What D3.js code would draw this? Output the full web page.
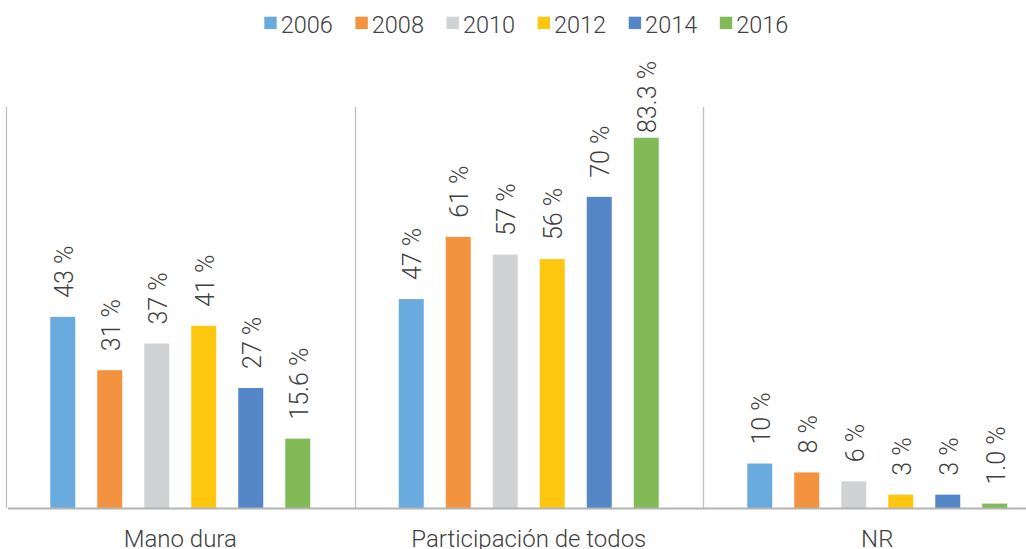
<!DOCTYPE html>
<html>
<head>
<meta charset="utf-8">
<script src="https://cdn.jsdelivr.net/npm/d3@7"></script>
<style>
  body { margin: 0; background: #fff; }
  svg text { font-family: Roboto, "Liberation Sans", Arial, sans-serif; font-weight: 300; fill: #404040; }
</style>
</head>
<body>
<div id="chart"></div>
<script>
// chart data
var groups = ['Mano dura', 'Participación de todos', 'NR'];
var years = ['2006', '2008', '2010', '2012', '2014', '2016'];
var manoDura = [43, 31, 37, 41, 27, 15.6];
var participacion = [47, 61, 57, 56, 70, 83.3];
var noResponde = [10, 8, 6, 3, 3, 1.0];
var manoDuraLabels = ['43 %', '31 %', '37 %', '41 %', '27 %', '15.6 %'];
var participacionLabels = ['47 %', '61 %', '57 %', '56 %', '70 %', '83.3 %'];
var noRespondeLabels = ['10 %', '8 %', '6 %', '3 %', '3 %', '1.0 %'];

var colors = ['#6aabdf', '#f39340', '#d1d2d4', '#fec70f', '#5586c7', '#82ba58'];

var cfg = {
  width: 1026,
  height: 549,
  baseline: 508,
  gridTop: 107,
  left: 6,
  groupStep: 348.5
};

(function(data) {
  var series = [manoDura, participacion, noResponde];
  var labels = [manoDuraLabels, participacionLabels, noRespondeLabels];

  var svg = d3
    .select('#chart')
    .append('svg')
    .attr('width', data.width)
    .attr('height', data.height);

  var x0 = d3
    .scaleBand()
    .domain(groups)
    .range([data.left, data.left + groups.length * data.groupStep]);

  var bw = x0.bandwidth();
  var span = 282; // 6 bars * 47px step
  var x1 = d3
    .scaleBand()
    .domain(years)
    .range([(bw - span) / 2, (bw + span) / 2])
    .paddingInner(22 / 47)
    .paddingOuter(11 / 47);

  var y = d3
    .scaleLinear()
    .domain([0, 100])
    .range([data.baseline, data.baseline - 444.5]);

  var color = d3.scaleOrdinal().domain(years).range(colors);

  // separators
  svg
    .append('g')
    .selectAll('line')
    .data(groups)
    .enter()
    .append('line')
    .attr('x1', d => Math.round(x0(d)) + 0.5)
    .attr('x2', d => Math.round(x0(d)) + 0.5)
    .attr('y1', data.gridTop)
    .attr('y2', data.baseline)
    .style('stroke', '#bfbfbf')
    .style('stroke-width', 1.3);

  var rows = [];
  groups.forEach((g, gi) => {
    years.forEach((yr, yi) => {
      rows.push({ group: g, year: yr, value: series[gi][yi], label: labels[gi][yi] });
    });
  });

  var bars = svg.append('g');
  bars
    .selectAll('rect')
    .data(rows)
    .enter()
    .append('rect')
    .attr('x', d => x0(d.group) + x1(d.year))
    .attr('width', x1.bandwidth())
    .attr('y', d => y(d.value))
    .attr('height', d => y(0) - y(d.value))
    .attr('fill', d => color(d.year));

  // value labels, rotated; kept inside the chart top like excel does
  bars
    .selectAll('text')
    .data(rows)
    .enter()
    .append('text')
    .attr('transform', d => {
      var cx = x0(d.group) + x1(d.year) + x1.bandwidth() / 2 + 1;
      var cy = Math.max(y(d.value) - 19, 133);
      return 'translate(' + cx + ',' + cy + ') rotate(-90)';
    })
    .attr('dy', '0.36em')
    .style('font-size', '25px')
    .text(d => d.label);

  // axis line
  svg
    .append('line')
    .attr('x1', 8)
    .attr('x2', data.width)
    .attr('y1', data.baseline + 0.5)
    .attr('y2', data.baseline + 0.5)
    .style('stroke', '#b4b4b4')
    .style('stroke-width', 2);

  // category labels
  svg
    .append('g')
    .selectAll('text')
    .data(groups)
    .enter()
    .append('text')
    .attr('x', d => x0(d) + bw / 2)
    .attr('y', 546.5)
    .attr('text-anchor', 'middle')
    .style('font-size', '24px')
    .text(d => d);

  // legend
  var legend = svg
    .append('g')
    .selectAll('g')
    .data(years)
    .enter()
    .append('g')
    .attr('transform', (d, i) => 'translate(' + (264.3 + i * 91.1) + ',0)');
  legend
    .append('rect')
    .attr('y', 16.7)
    .attr('width', 12.4)
    .attr('height', 12.4)
    .attr('fill', d => color(d));
  legend
    .append('text')
    .attr('x', 16.4)
    .attr('y', 33.3)
    .style('font-size', '23.5px')
    .text(d => d);
})(cfg);
</script>
</body>
</html>
